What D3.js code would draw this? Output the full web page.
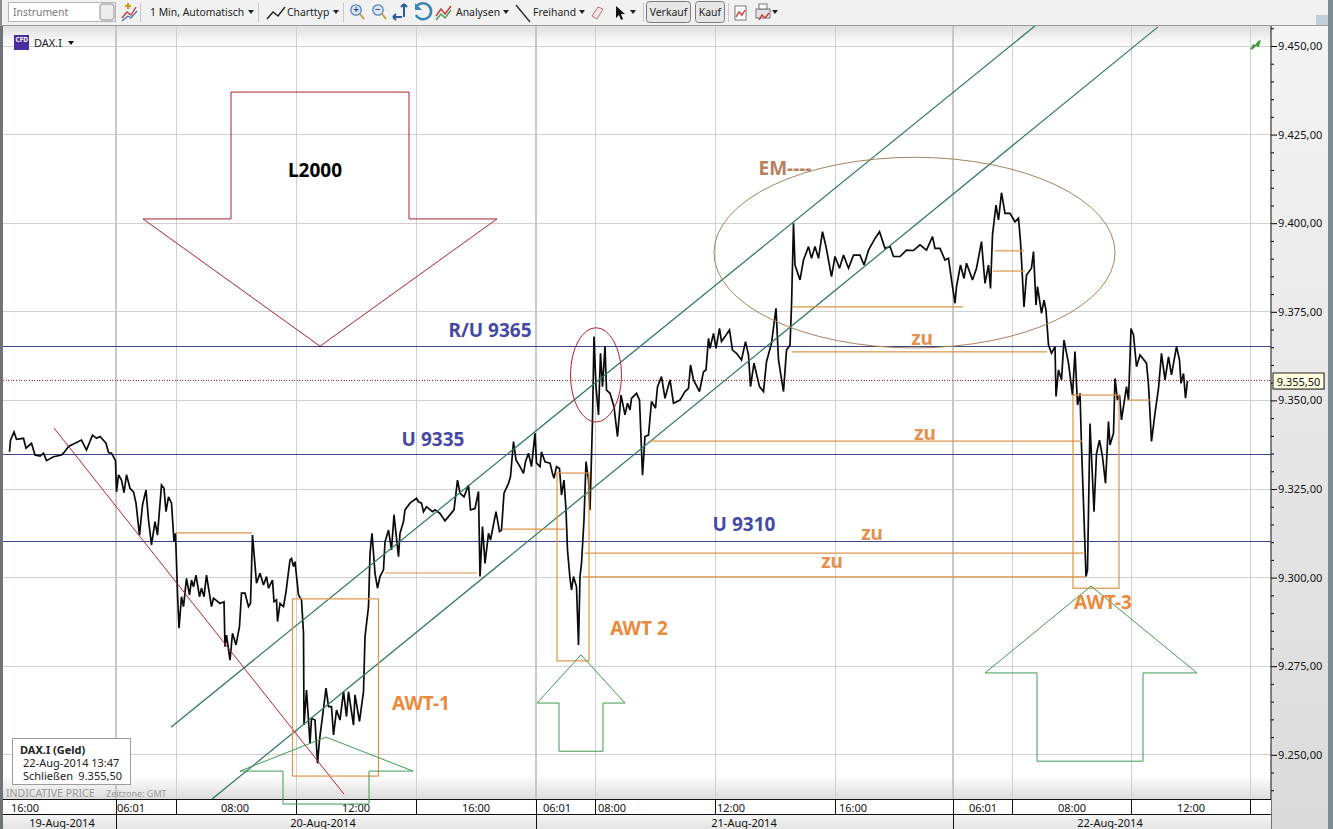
<!DOCTYPE html>
<html><head><meta charset="utf-8">
<script src="https://cdn.jsdelivr.net/npm/d3@7/dist/d3.min.js"></script>
<style>html,body{margin:0;padding:0;background:#fff;overflow:hidden}svg{display:block}text{font-family:"Noto Sans",sans-serif}</style>
</head><body><svg id="c" width="1333" height="829"></svg>
<script>
// [minutes after 06:00 on 20-Aug along the compressed session axis, DAX price]
const priceDay19 = [[-213,9335.5],[-211,9338.8],[-204,9341.1],[-199,9339],[-185,9339.3],[-180,9336.5],[-169,9337.9],[-162,9334.6],[-152,9334.3],[-145,9335.1],[-139,9333],[-125,9334.1],[-109,9334.6],[-105,9335.1],[-95,9337],[-82,9337.9],[-69,9338.8],[-59,9336],[-47,9340.2],[-39,9339.3],[-32,9339.8],[-20,9337.9],[-15,9335.3],[-9,9335.1],[-1,9333]];
const priceDay20 = [[1,9324.2],[5,9329],[11,9327.5],[16,9324],[21,9329],[28,9325.2],[35,9324.2],[40,9321],[47,9312],[53,9320.5],[60,9324.7],[65,9316.3],[71,9309.2],[78,9315.8],[83,9312],[91,9326.1],[96,9325.2],[100,9318.6],[105,9322.8],[111,9321],[116,9310.1],[119,9312.5],[123,9295.6],[126,9285.7],[131,9294.6],[135,9291.8],[141,9299.8],[147,9295.1],[151,9299.3],[155,9297.4],[160,9300.7],[167,9294.6],[171,9297],[176,9294.6],[181,9300.7],[191,9291.8],[195,9294.2],[208,9292.7],[216,9293.2],[218,9280.5],[221,9283.8],[228,9276.7],[233,9284.3],[240,9281],[247,9286.2],[251,9295.6],[258,9295.6],[265,9291.8],[269,9292.7],[273,9312],[281,9298.4],[288,9301.2],[295,9297.9],[301,9300.3],[305,9297],[313,9299.3],[316,9293.2],[321,9293.7],[323,9287.6],[328,9292.7],[335,9291.8],[340,9296],[348,9305],[351,9305.4],[355,9303.1],[358,9304.5],[365,9295.1],[371,9293.7],[375,9284.3],[376,9258.4],[381,9268.3],[388,9253.2],[391,9260.3],[398,9259.8],[403,9247.6],[407,9254.2],[413,9260.8],[420,9268.8],[425,9263.6],[431,9263.6],[435,9255.6],[441,9262.6],[448,9259.8],[455,9267.8],[461,9260.8],[465,9267.8],[475,9258.4],[478,9266.9],[487,9259.4],[495,9267.8],[498,9283.3],[505,9291.8],[508,9306.8],[512,9312.5],[518,9301.2],[523,9297],[528,9300.3],[535,9302.2],[538,9310.1],[545,9313.4],[551,9307.8],[556,9317.7],[565,9305.9],[568,9312.5],[575,9315.8],[578,9319.1],[588,9321],[601,9322.4],[605,9321.4],[611,9321],[615,9318.6],[621,9320],[633,9318.6],[638,9319.1],[648,9318.1],[658,9316],[665,9317.2],[676,9319.1],[683,9327.5],[688,9323.8],[696,9322.8],[705,9326.1],[709,9319.1],[718,9319.5],[725,9324.3],[728,9300.3],[733,9314.4],[738,9304],[745,9312.5],[749,9310.6],[760,9318.6],[767,9313],[771,9313.4],[776,9323.8],[785,9326.6],[789,9328.5],[795,9338.4],[800,9333.2],[808,9331.3],[815,9329.4],[819,9332.7],[825,9335.1],[831,9331.3],[838,9340.7]];
const priceDay21 = [[841,9332.3],[848,9331.3],[851,9335.5],[858,9332.7],[868,9332.3],[873,9329.4],[876,9328],[881,9331.3],[887,9330.8],[891,9323.3],[896,9327.5],[900,9319.1],[903,9307.8],[908,9299.8],[911,9296.5],[915,9300.3],[921,9297.4],[925,9281],[928,9300.3],[931,9304],[936,9316.3],[940,9332.7],[945,9327.5],[948,9319.1],[953,9344.5],[956,9368],[960,9353.9],[965,9345.9],[969,9363.3],[973,9353.9],[978,9365.2],[981,9352.9],[988,9352],[996,9348.2],[1003,9339.8],[1010,9351.5],[1018,9345.9],[1023,9349.2],[1028,9347.3],[1031,9350.6],[1041,9352],[1047,9350.1],[1053,9328.9],[1058,9339.8],[1065,9340.2],[1071,9349.7],[1079,9347.8],[1083,9353.9],[1091,9356.7],[1098,9350.6],[1108,9355.8],[1115,9349.2],[1128,9350.1],[1138,9352.5],[1145,9353.4],[1149,9360],[1155,9355.8],[1167,9352.5],[1175,9358.1],[1180,9358.6],[1185,9367.5],[1188,9364.7],[1195,9368.9],[1200,9364.7],[1207,9370.3],[1211,9366.6],[1218,9368],[1227,9369.9],[1233,9364.2],[1241,9363.3],[1251,9361.4],[1259,9366.6],[1265,9362.8],[1269,9353.9],[1276,9360.5],[1287,9353.9],[1295,9352.5],[1301,9360.9],[1311,9366.1],[1320,9376],[1325,9361.4],[1335,9352.5],[1341,9364.2],[1348,9365.6],[1351,9376.4],[1355,9400],[1358,9388.2],[1368,9384],[1375,9389.6],[1385,9393.4],[1391,9390.1],[1398,9393.4],[1405,9390.1],[1413,9397.6],[1420,9393.4],[1431,9384.9],[1438,9390.6],[1447,9387.3],[1455,9391],[1465,9387.3],[1475,9391],[1488,9391],[1496,9388.2],[1505,9392.4],[1518,9395.7],[1527,9397.6],[1538,9392.9],[1548,9393.4],[1555,9390.6],[1568,9390.6],[1581,9392.4],[1595,9392.3],[1608,9393.9],[1621,9392.4],[1633,9396.2],[1638,9392.9],[1648,9392.9],[1658,9389.6],[1665,9390.1],[1671,9384]];
const priceDay22 = [[1678,9377.4],[1681,9382.1],[1689,9388.2],[1696,9384.4],[1701,9388.7],[1713,9384],[1721,9387.3],[1731,9394.8],[1738,9383],[1745,9388.2],[1749,9381.6],[1753,9396.7],[1760,9405.1],[1765,9400.9],[1771,9408.6],[1778,9402.8],[1788,9402.8],[1798,9400.4],[1805,9401.4],[1809,9394.8],[1816,9376.4],[1821,9385.4],[1831,9387.3],[1835,9392],[1840,9376.9],[1843,9382.1],[1851,9374.6],[1856,9378.3],[1860,9375.5],[1865,9365.6],[1871,9363.3],[1878,9365.2],[1880,9351.1],[1885,9358.6],[1891,9355.8],[1896,9367],[1905,9360.5],[1913,9351.5],[1918,9363.8],[1923,9348.7],[1928,9352],[1931,9337],[1935,9321],[1940,9300.3],[1943,9302.1],[1948,9343.5],[1956,9318.6],[1961,9335],[1967,9338.8],[1973,9334.1],[1979,9326.6],[1985,9344],[1988,9337.4],[1995,9340.7],[1998,9356.2],[2003,9350.1],[2007,9351.5],[2011,9344.5],[2021,9353.9],[2025,9350.1],[2030,9370.3],[2035,9368.5],[2041,9359.5],[2048,9362.8],[2061,9360.5],[2065,9354.4],[2071,9338.4],[2078,9346.4],[2085,9353.4],[2091,9363.3],[2098,9355.8],[2105,9362.3],[2111,9357.2],[2121,9365.2],[2127,9361.4],[2130,9354.8],[2135,9357.6],[2139,9350.6],[2143,9355.5]];

const priceTicks = d3.range(9455, 9235, -5);
const priceLabelled = d3.range(9450, 9249, -25);
const sessionStarts = [0, 840, 1674];
const gridMinutes = [120, 360, 600, 958, 1198, 1438, 1792, 2030, 2268];
const timeLabels = ["16:00","06:01","08:00","12:00","16:00","06:01","08:00","12:00","16:00","06:01","08:00","12:00"];
const timeLabelAt = [-182,30,238,480,720,882,992,1230,1474,1734,1912,2150];
const dateLabels = ["19-Aug-2014","20-Aug-2014","21-Aug-2014","22-Aug-2014"];
const dateLabelAt = [-108,414,1256,1988];

const levels = [9365.1, 9334.6, 9310.3];
const lastPrice = 9355.5;
const channel = [[[110,9257.8],[1840,9455.9]],[[192,9237.5],[2084,9455.4]]];
const downTrend = [[-124,9342.2],[456,9238.9]];
const arrowL2000 = [[230,9437],[586,9437],[586,9401.2],[762,9401.2],[408,9365.3],[54,9401.2],[230,9401.2]];
const arrowAwt1 = [[420,9255],[594,9245.4],[506,9245.4],[506,9236.1],[334,9236.1],[334,9245.4],[248,9245.4]];
const arrowAwt2 = [[930,9278.2],[1018,9264.6],[974,9264.6],[974,9251],[886,9251],[886,9264.6],[842,9264.6]];
const arrowAwt3 = [[1950,9297.6],[2162,9273.1],[2054,9273.1],[2054,9248.2],[1842,9248.2],[1842,9273.1],[1738,9273.1]];
const boxes = [[353,525,9294,9244],[882,946,9329.5,9276.5],[1914,2006,9351.5,9297]];
const gaps = [[120,272,9312.6],[538,722,9301.3],[774,898,9313.7],[938,1938,9306.9],[934,1938,9300.2],[1068,1932,9338.5],[1354,1694,9376.4],[1352,1862,9363.7],[1758,1816,9392.2],[1754,1818,9386.5],[2024,2068,9350.1]];
const ellipses = [[960,9357.2,51,13.3,"#b2222e"],[1597,9391.7,401,26.9,"#a5835f"]];
const notes = [
 ["L2000",398,9415,"#000"],["R/U 9365",748,9370,"#4549a3"],["U 9335",634,9339.1,"#4549a3"],["U 9310",1256,9315.1,"#4549a3"],
 ["AWT-1",610,9264.6,"#ea8a3c"],["AWT 2",1046,9285.8,"#ea8a3c"],["AWT-3",1974,9293,"#ea8a3c"],
 ["zu",1612,9367.6,"#e2914e"],["zu",1618,9340.8,"#e2914e"],["zu",1512,9312.6,"#e2914e"],["zu",1432,9304.7,"#e2914e"],["EM----",1338,9415.6,"#b5835a"]];

const svg = d3.select("#c");
const x = d3.scaleLinear().domain([-232, 2310]).range([0, 1271]);
const y = d3.scaleLinear().domain([9450, 9250]).range([46, 754.8]);
const defs = svg.append("defs");
function grad(id, stops){const g=defs.append("linearGradient").attr("id",id).attr("x1",0).attr("y1",0).attr("x2",0).attr("y2",1);
 stops.forEach(s=>g.append("stop").attr("offset",s[0]).attr("stop-color",s[1]));}
grad("gTop",[[0,"#dedede"],[1,"#ffffff"]]);
grad("gBot",[[0,"#ffffff"],[1,"#dddddd"]]);
grad("gRow",[[0,"#f6f6f6"],[1,"#e4e4e4"]]);
grad("gSide",[[0,"#f4f4f4"],[1,"#dadada"]]);
const clip = defs.append("clipPath").attr("id","plot");
clip.append("rect").attr("x",3).attr("y",25).attr("width",1268).attr("height",774);

// background
svg.append("rect").attr("width",1333).attr("height",829).attr("fill","#fff");
svg.append("rect").attr("x",3).attr("y",25).attr("width",1268).attr("height",21).attr("fill","url(#gTop)");
svg.append("rect").attr("x",3).attr("y",775).attr("width",1268).attr("height",24).attr("fill","url(#gBot)");

// grid
const grid = svg.append("g").attr("shape-rendering","crispEdges");
grid.selectAll("line.h").data(priceLabelled).join("line").attr("x1",3).attr("x2",1271)
 .attr("y1",d=>y(d)).attr("y2",d=>y(d)).attr("stroke","#cfcfcf").attr("stroke-width",1);
grid.selectAll("line.v").data(gridMinutes).join("line").attr("x1",d=>x(d)).attr("x2",d=>x(d))
 .attr("y1",25).attr("y2",799).attr("stroke","#cfcfcf").attr("stroke-width",1);
grid.selectAll("line.s").data(sessionStarts).join("line").attr("x1",d=>x(d)).attr("x2",d=>x(d))
 .attr("y1",25).attr("y2",799).attr("stroke","#c8c8c8").attr("stroke-width",2);

// axis panel
svg.append("rect").attr("x",1271).attr("y",25).attr("width",62).attr("height",804).attr("fill","url(#gSide)");
const yAxis = d3.axisRight(y).tickValues(priceTicks).tickSize(3).tickFormat(d=>priceLabelled.includes(d)?d3.format(".2f")(d).replace(".",",").replace(/^(\d)(\d{3})/,"$1.$2"):"");
const ya = svg.append("g").attr("transform","translate(1271,0)").call(yAxis);
ya.select(".domain").remove();
ya.selectAll(".tick line").attr("stroke","#000").attr("x2",d=>priceLabelled.includes(d)?6:3);
ya.selectAll(".tick text").attr("x",7).attr("fill","#111").style("font-size","11px").style("letter-spacing","0.1px");
svg.append("line").attr("x1",1271).attr("x2",1271).attr("y1",25).attr("y2",829).attr("stroke","#111");

// plot contents
const plot = svg.append("g").attr("clip-path","url(#plot)");
plot.selectAll("line.level").data(levels).join("line").attr("x1",3).attr("x2",1275)
 .attr("y1",d=>y(d)).attr("y2",d=>y(d)).attr("stroke","#3a468c").attr("stroke-width",1).attr("shape-rendering","crispEdges");
plot.append("line").attr("x1",3).attr("x2",1271).attr("y1",y(lastPrice)).attr("y2",y(lastPrice))
 .attr("stroke","#a3262c").attr("stroke-dasharray","1,1.6").attr("shape-rendering","crispEdges");
const line = d3.line().x(d=>x(d[0])).y(d=>y(d[1]));
const fullPrice = [...priceDay19,...priceDay20,...priceDay21,...priceDay22];
plot.append("path").attr("d",line(fullPrice)).attr("fill","none").attr("stroke","#0a0a0a").attr("stroke-width",1.7).attr("stroke-linejoin","miter").attr("stroke-miterlimit",3);
plot.selectAll("path.ch").data(channel).join("path").attr("d",line).attr("fill","none").attr("stroke","#2f7a5c").attr("stroke-width",1.25);
plot.append("path").attr("d",line(downTrend)).attr("stroke","#b8242e").attr("fill","none");
// orange
const orange="#de9347";
plot.selectAll("rect.b").data(boxes).join("rect").attr("x",d=>x(d[0])).attr("width",d=>x(d[1])-x(d[0]))
 .attr("y",d=>y(d[2])).attr("height",d=>y(d[3])-y(d[2])).attr("fill","none").attr("stroke",orange).attr("stroke-width",1.2);
plot.selectAll("line.g").data(gaps).join("line").attr("x1",d=>x(d[0])).attr("x2",d=>x(d[1]))
 .attr("y1",d=>y(d[2])).attr("y2",d=>y(d[2])).attr("stroke",orange).attr("stroke-width",1.2);
plot.selectAll("ellipse").data(ellipses).join("ellipse").attr("cx",d=>x(d[0])).attr("cy",d=>y(d[1]))
 .attr("rx",d=>x(d[0]+d[2])-x(d[0])).attr("ry",d=>y(d[1]-d[3])-y(d[1])).attr("fill","none").attr("stroke",d=>d[4]);
const poly = d3.line().x(d=>x(d[0])).y(d=>y(d[1])).curve(d3.curveLinearClosed);
plot.append("path").attr("d",poly(arrowL2000)).attr("fill","none").attr("stroke","#a5252e");
plot.selectAll("path.ga").data([arrowAwt2,arrowAwt3]).join("path").attr("d",poly).attr("fill","none").attr("stroke","#3f9a55");

// time axis
const rows = svg.append("g");
rows.append("rect").attr("x",3).attr("y",799).attr("width",1268).attr("height",15.5).attr("fill","#fff");
rows.append("rect").attr("x",3).attr("y",814.5).attr("width",1268).attr("height",14.5).attr("fill","url(#gRow)");
[799,814.5].forEach(v=>rows.append("line").attr("x1",3).attr("x2",1271).attr("y1",v).attr("y2",v).attr("stroke","#111").attr("shape-rendering","crispEdges"));
rows.selectAll("line.t").data([...gridMinutes,...sessionStarts]).join("line").attr("x1",d=>x(d)).attr("x2",d=>x(d)).attr("y1",799).attr("y2",814.5).attr("stroke","#111").attr("shape-rendering","crispEdges");
rows.selectAll("line.d").data(sessionStarts).join("line").attr("x1",d=>x(d)).attr("x2",d=>x(d)).attr("y1",814.5).attr("y2",829).attr("stroke","#111").attr("shape-rendering","crispEdges");
rows.selectAll("text.t").data(timeLabels).join("text").attr("x",(d,i)=>x(timeLabelAt[i])).attr("y",807).attr("text-anchor","middle").attr("dominant-baseline","central").attr("font-size",11).attr("fill","#111").text(d=>d);
rows.selectAll("text.d").data(dateLabels).join("text").attr("x",(d,i)=>x(dateLabelAt[i])).attr("y",822).attr("text-anchor","middle").attr("dominant-baseline","central").attr("font-size",11).attr("fill","#111").text(d=>d);
// arrow that overlaps the axis row
svg.append("path").attr("d",poly(arrowAwt1)).attr("fill","none").attr("stroke","#3f9a55");

// annotation text
svg.selectAll("text.note").data(notes).join("text").attr("x",d=>x(d[1])).attr("y",d=>y(d[2])).attr("text-anchor","middle").attr("dominant-baseline","central")
 .attr("font-size",19).attr("font-weight",700).attr("fill",d=>d[3]).text(d=>d[0]);

// last price box
svg.append("rect").attr("x",1274).attr("y",374).attr("width",51).attr("height",16).attr("fill","#bdbdbd");
svg.append("rect").attr("x",1273).attr("y",373).attr("width",51).attr("height",16).attr("fill","#ffffe0").attr("stroke","#222");
svg.append("text").attr("x",1298.5).attr("y",381).attr("text-anchor","middle").attr("dominant-baseline","central").attr("font-size",11).attr("fill","#111").text("9.355,50");

// info box
svg.append("rect").attr("x",12.5).attr("y",738.5).attr("width",118).attr("height",46).attr("fill","#fff").attr("stroke","#9c9c9c");
svg.append("text").attr("x",20).attr("y",754).attr("font-size",11).attr("font-weight",700).attr("fill","#222").text("DAX.I (Geld)");
svg.append("text").attr("x",23).attr("y",767).attr("font-size",11).attr("fill","#222").text("22-Aug-2014 13:47");
svg.append("text").attr("x",23).attr("y",780).attr("font-size",11).attr("fill","#222").text("Schließen");
svg.append("text").attr("x",122).attr("y",780).attr("text-anchor","end").attr("font-size",11).attr("fill","#222").text("9.355,50");
svg.append("text").attr("x",6).attr("y",797).attr("font-size",10.5).attr("fill","#9a9a9a").text("INDICATIVE PRICE");
svg.append("text").attr("x",106).attr("y",797).attr("font-size",9).attr("fill","#9a9a9a").text("Zeitzone: GMT");

// instrument tag
svg.append("rect").attr("x",14).attr("y",35).attr("width",15).attr("height",15).attr("fill","#4a2fa0");
svg.append("text").attr("x",15.5).attr("y",42).attr("font-size",6.5).attr("font-weight",700).attr("fill","#fff").text("CFD");
svg.append("text").attr("x",34).attr("y",47).attr("font-size",11).attr("fill","#222").text("DAX.I");
svg.append("path").attr("d","M68 41h6l-3 4z").attr("fill","#111");
svg.append("path").attr("d","M1250 50l3-6 2 1 3-4 3-1-2 7-3-1-3 3z").attr("fill","#3f9d35");

// window edges
svg.append("rect").attr("x",0).attr("y",25).attr("width",3).attr("height",804).attr("fill","#6f7476");
svg.append("rect").attr("x",1328).attr("y",0).attr("width",5).attr("height",829).attr("fill","#7d8a90");

// toolbar
const tb = svg.append("g");
tb.append("rect").attr("width",1328).attr("height",25).attr("fill","#f1f1f1");
tb.append("line").attr("x1",0).attr("x2",1328).attr("y1",25.5).attr("y2",25.5).attr("stroke","#9a9a9a");
tb.append("rect").attr("x",0).attr("width",2).attr("height",25).attr("fill","#8a8f92");
tb.append("rect").attr("x",1316).attr("y",15).attr("width",12).attr("height",10).attr("fill","#c3ced6");
tb.append("rect").attr("x",8.5).attr("y",2.5).attr("width",107).attr("height",19).attr("fill","#fff").attr("stroke","#b5b5b5");
tb.append("rect").attr("x",100).attr("y",4).attr("width",14).attr("height",16).attr("rx",2).attr("fill","#ececec").attr("stroke","#8d8d8d");
const toolText=[["Instrument",13,"#777"],["1 Min,  Automatisch",150,"#222"],["Charttyp",287,"#222"],["Analysen",456,"#222"],["Freihand",533,"#222"]];
tb.selectAll("text.m").data(toolText).join("text").attr("x",d=>d[1]).attr("y",16).attr("font-size",10.4).attr("fill",d=>d[2]).text(d=>d[0]);
[[248,"#222"],[333,"#222"],[503,"#222"],[579,"#222"],[630,"#222"],[772,"#222"]].forEach(a=>tb.append("path").attr("d",`M${a[0]} 10h6l-3 4z`).attr("fill",a[1]));
[[140],[258],[343],[643],[728]].forEach(a=>tb.append("line").attr("x1",a[0]+.5).attr("x2",a[0]+.5).attr("y1",3).attr("y2",22).attr("stroke","#c8c8c8"));
[[646,44,"Verkauf"],[695,29,"Kauf"]].forEach(b=>{
 tb.append("rect").attr("x",b[0]+.5).attr("y",1.5).attr("width",b[1]).attr("height",21).attr("rx",3).attr("fill","#e6e6e6").attr("stroke","#7d7d7d");
 tb.append("text").attr("x",b[0]+b[1]/2+.5).attr("y",16).attr("text-anchor","middle").attr("font-size",10.4).attr("fill","#222").text(b[2]);
});
// toolbar icons
tb.append("path").attr("d","M122 18l5-6 4 3 5-8").attr("fill","none").attr("stroke","#c63c3c").attr("stroke-width",1.4);
tb.append("path").attr("d","M122 21l6-5 3 2 6-7").attr("fill","none").attr("stroke","#4a6bb8").attr("stroke-width",1.2);
tb.append("path").attr("d","M125 6h6M128 3v6").attr("stroke","#d09a1c").attr("stroke-width",2.2);
tb.append("path").attr("d","M267 19l6-7 5 4 7-9").attr("fill","none").attr("stroke","#222").attr("stroke-width",1.4);
[[356,"+"],[378,"−"]].forEach(z=>{
 tb.append("circle").attr("cx",z[0]).attr("cy",10).attr("r",5.2).attr("fill","#dbe8f8").attr("stroke","#5680b8").attr("stroke-width",1.3);
 tb.append("line").attr("x1",z[0]+4).attr("x2",z[0]+8).attr("y1",14).attr("y2",19).attr("stroke","#c59a4a").attr("stroke-width",2);
 tb.append("text").attr("x",z[0]).attr("y",13).attr("text-anchor","middle").attr("font-size",10).attr("font-weight",700).attr("fill","#33588c").text(z[1]);
});
tb.append("path").attr("d","M393 17h9M404 4v13M393 17l3-3M393 17l3 3M404 4l-3 3M404 4l3 3").attr("fill","none").attr("stroke","#2f5c99").attr("stroke-width",2);
tb.append("path").attr("d","M417 6a8 8 0 1 1 -1 9").attr("fill","none").attr("stroke","#3a86b5").attr("stroke-width",2.6);
tb.append("path").attr("d","M415 3v7h7z").attr("fill","#3a86b5");
tb.append("path").attr("d","M436 16l5-7 4 5 6-8").attr("fill","none").attr("stroke","#c63c3c").attr("stroke-width",1.4);
tb.append("path").attr("d","M436 20l5-6 4 4 6-8").attr("fill","none").attr("stroke","#4a9a55").attr("stroke-width",1.4);
tb.append("line").attr("x1",516).attr("x2",530).attr("y1",5).attr("y2",22).attr("stroke","#333").attr("stroke-width",1.5);
tb.append("path").attr("d","M592 16l6-9 5 2-6 10z").attr("fill","#f7e8e8").attr("stroke","#a77");
tb.append("path").attr("d","M616 6v12l3-3 2 5 2-1-2-5h4z").attr("fill","#111");
tb.append("rect").attr("x",735).attr("y",6).attr("width",11).attr("height",14).attr("fill","#fff").attr("stroke","#777");
tb.append("path").attr("d","M736 17l3-5 3 3 3-5").attr("fill","none").attr("stroke","#c63c3c").attr("stroke-width",1.4);
tb.append("rect").attr("x",756).attr("y",9).attr("width",14).attr("height",9).attr("fill","#e3e3e3").attr("stroke","#777");
tb.append("rect").attr("x",759).attr("y",4).attr("width",8).attr("height",5).attr("fill","#fff").attr("stroke","#777");
tb.append("path").attr("d","M759 20l3-5 3 3 4-5").attr("fill","none").attr("stroke","#c63c3c").attr("stroke-width",1.4);
</script></body></html>
